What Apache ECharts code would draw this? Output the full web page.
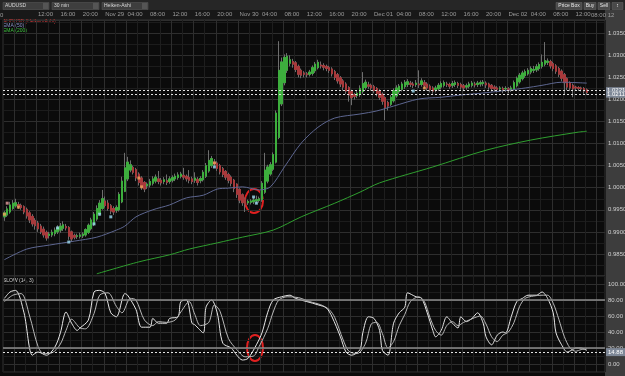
<!DOCTYPE html>
<html lang="en">
<head>
    <meta charset="UTF-8">
    <title>AUDUSD 30 min</title>
    <script src="https://cdn.jsdelivr.net/npm/echarts@6/dist/echarts.min.js"></script>
    <style>
        html, body { margin: 0; padding: 0; background: #0b0b0b; }
    </style>
</head>
<body>

<div id="chart_wrap" style="width: 625px; height: 376px;"></div>

<script>
    // categories: 30 min bars from Nov 28 06:00, some empty slots on the right
    var dayNames = ['Nov 28', 'Nov 29', 'Nov 30', 'Dec 01', 'Dec 02', 'Dec 03'];
    var firstHour = 6;
    var slotCount = 215;

    // heiken-ashi bars: [open, close, low, high]
    var candles = [
        [0.9934,0.9943,0.9925,0.9947],[0.9938,0.9952,0.9934,0.9958],[0.9945,0.9961,0.9941,0.9968],[0.9953,0.9965,0.9950,0.9972],
        [0.9959,0.9966,0.9955,0.9975],[0.9962,0.9958,0.9952,0.9968],[0.9960,0.9955,0.9950,0.9964],[0.9957,0.9945,0.9940,0.9960],
        [0.9951,0.9936,0.9930,0.9955],[0.9943,0.9927,0.9920,0.9947],[0.9935,0.9918,0.9912,0.9940],[0.9926,0.9914,0.9905,0.9931],
        [0.9920,0.9907,0.9900,0.9925],[0.9913,0.9900,0.9895,0.9918],[0.9906,0.9893,0.9887,0.9912],[0.9899,0.9886,0.9880,0.9903],
        [0.9892,0.9895,0.9885,0.9900],[0.9893,0.9899,0.9888,0.9905],[0.9896,0.9904,0.9890,0.9910],[0.9900,0.9909,0.9895,0.9915],
        [0.9904,0.9913,0.9898,0.9920],[0.9908,0.9916,0.9902,0.9924],[0.9912,0.9909,0.9903,0.9918],[0.9910,0.9890,0.9882,0.9913],
        [0.9900,0.9884,0.9877,0.9903],[0.9892,0.9888,0.9883,0.9896],[0.9890,0.9891,0.9884,0.9896],[0.9890,0.9893,0.9885,0.9898],
        [0.9891,0.9895,0.9886,0.9899],[0.9893,0.9905,0.9889,0.9908],[0.9899,0.9915,0.9895,0.9919],[0.9907,0.9927,0.9903,0.9932],
        [0.9917,0.9940,0.9913,0.9945],[0.9929,0.9953,0.9925,0.9960],[0.9941,0.9965,0.9937,0.9972],[0.9953,0.9975,0.9950,0.9995],
        [0.9970,0.9960,0.9955,0.9980],[0.9965,0.9953,0.9948,0.9972],[0.9959,0.9947,0.9940,0.9963],[0.9953,0.9945,0.9938,0.9958],
        [0.9949,0.9955,0.9943,0.9960],[0.9950,0.9985,0.9946,0.9990],[0.9968,1.0015,0.9965,1.0025],[0.9992,1.0045,0.9990,1.0079],
        [1.0020,1.0058,1.0015,1.0070],[1.0040,1.0052,1.0035,1.0062],[1.0046,1.0035,1.0030,1.0050],[1.0041,1.0022,1.0015,1.0045],
        [1.0031,1.0012,1.0005,1.0035],[1.0022,1.0002,0.9995,1.0026],[1.0012,0.9997,0.9990,1.0015],[1.0004,1.0008,0.9997,1.0012],
        [1.0006,1.0014,1.0001,1.0020],[1.0010,1.0020,1.0005,1.0026],[1.0015,1.0024,1.0010,1.0030],[1.0020,1.0014,1.0008,1.0038],
        [1.0017,1.0011,1.0005,1.0022],[1.0014,1.0018,1.0008,1.0024],[1.0016,1.0012,1.0006,1.0030],[1.0014,1.0020,1.0009,1.0026],
        [1.0017,1.0023,1.0012,1.0028],[1.0020,1.0026,1.0015,1.0032],[1.0023,1.0029,1.0018,1.0035],[1.0026,1.0031,1.0021,1.0036],
        [1.0028,1.0024,1.0018,1.0045],[1.0026,1.0020,1.0014,1.0030],[1.0023,1.0017,1.0010,1.0040],[1.0020,1.0014,1.0008,1.0025],
        [1.0017,1.0022,1.0011,1.0035],[1.0019,1.0012,1.0005,1.0024],[1.0016,1.0021,1.0010,1.0026],[1.0018,1.0035,1.0014,1.0040],
        [1.0026,1.0050,1.0022,1.0056],[1.0038,1.0062,1.0034,1.0085],[1.0050,1.0066,1.0045,1.0072],[1.0058,1.0055,1.0048,1.0065],
        [1.0056,1.0044,1.0038,1.0060],[1.0050,1.0036,1.0030,1.0054],[1.0043,1.0030,1.0024,1.0047],[1.0037,1.0024,1.0018,1.0040],
        [1.0030,1.0017,1.0010,1.0034],[1.0024,1.0010,1.0003,1.0028],[1.0017,0.9998,0.9990,1.0020],[1.0008,0.9985,0.9977,1.0010],
        [0.9996,0.9972,0.9965,0.9999],[0.9984,0.9966,0.9959,0.9987],[0.9975,0.9962,0.9945,0.9978],[0.9966,0.9969,0.9961,0.9973],
        [0.9967,0.9970,0.9962,0.9974],[0.9968,0.9972,0.9963,0.9978],[0.9970,0.9973,0.9964,0.9982],[0.9971,0.9975,0.9966,0.9980],
        [0.9973,1.0010,0.9968,1.0015],[0.9990,1.0040,0.9986,1.0079],[1.0015,1.0047,1.0010,1.0052],[1.0031,1.0052,1.0027,1.0058],
        [1.0042,1.0075,1.0038,1.0080],[1.0058,1.0169,1.0055,1.0175],[1.0114,1.0266,1.0110,1.0332],[1.0190,1.0285,1.0185,1.0295],
        [1.0238,1.0295,1.0232,1.0302],[1.0266,1.0298,1.0260,1.0305],[1.0282,1.0290,1.0275,1.0300],[1.0286,1.0280,1.0272,1.0292],
        [1.0283,1.0268,1.0262,1.0287],[1.0275,1.0257,1.0250,1.0279],[1.0266,1.0255,1.0248,1.0270],[1.0260,1.0257,1.0250,1.0264],
        [1.0258,1.0256,1.0250,1.0262],[1.0257,1.0262,1.0252,1.0267],[1.0259,1.0272,1.0254,1.0277],[1.0265,1.0280,1.0260,1.0285],
        [1.0272,1.0284,1.0268,1.0290],[1.0278,1.0276,1.0270,1.0286],[1.0277,1.0273,1.0266,1.0282],[1.0275,1.0270,1.0264,1.0279],
        [1.0272,1.0266,1.0260,1.0276],[1.0269,1.0258,1.0252,1.0273],[1.0263,1.0250,1.0244,1.0267],[1.0256,1.0242,1.0236,1.0260],
        [1.0249,1.0235,1.0228,1.0253],[1.0242,1.0228,1.0220,1.0246],[1.0235,1.0219,1.0212,1.0239],[1.0227,1.0210,1.0195,1.0230],
        [1.0218,1.0204,1.0187,1.0222],[1.0211,1.0207,1.0200,1.0215],[1.0209,1.0214,1.0203,1.0219],[1.0211,1.0225,1.0206,1.0232],
        [1.0218,1.0236,1.0213,1.0262],[1.0227,1.0239,1.0222,1.0245],[1.0233,1.0230,1.0224,1.0240],[1.0232,1.0226,1.0220,1.0236],
        [1.0229,1.0220,1.0214,1.0233],[1.0225,1.0213,1.0207,1.0228],[1.0219,1.0205,1.0199,1.0223],[1.0212,1.0196,1.0188,1.0216],
        [1.0204,1.0182,1.0153,1.0207],[1.0193,1.0185,1.0175,1.0197],[1.0189,1.0205,1.0185,1.0210],[1.0197,1.0220,1.0193,1.0225],
        [1.0208,1.0226,1.0204,1.0232],[1.0217,1.0230,1.0212,1.0235],[1.0223,1.0235,1.0218,1.0240],[1.0229,1.0239,1.0224,1.0244],
        [1.0234,1.0240,1.0228,1.0246],[1.0237,1.0234,1.0228,1.0242],[1.0235,1.0232,1.0226,1.0240],[1.0234,1.0237,1.0228,1.0244],
        [1.0235,1.0233,1.0226,1.0266],[1.0234,1.0242,1.0229,1.0248],[1.0238,1.0232,1.0225,1.0244],[1.0235,1.0226,1.0220,1.0239],
        [1.0230,1.0222,1.0216,1.0234],[1.0226,1.0219,1.0213,1.0230],[1.0222,1.0226,1.0216,1.0231],[1.0224,1.0232,1.0219,1.0237],
        [1.0228,1.0236,1.0223,1.0241],[1.0232,1.0238,1.0227,1.0243],[1.0235,1.0234,1.0228,1.0240],[1.0234,1.0230,1.0224,1.0238],
        [1.0232,1.0236,1.0226,1.0242],[1.0234,1.0238,1.0228,1.0243],[1.0236,1.0232,1.0226,1.0240],[1.0234,1.0228,1.0222,1.0238],
        [1.0231,1.0226,1.0220,1.0235],[1.0228,1.0231,1.0222,1.0236],[1.0230,1.0235,1.0225,1.0240],[1.0232,1.0237,1.0227,1.0242],
        [1.0235,1.0233,1.0227,1.0240],[1.0234,1.0237,1.0228,1.0242],[1.0235,1.0238,1.0229,1.0243],[1.0236,1.0239,1.0230,1.0244],
        [1.0237,1.0233,1.0226,1.0241],[1.0235,1.0228,1.0222,1.0238],[1.0232,1.0225,1.0218,1.0235],[1.0228,1.0224,1.0218,1.0232],
        [1.0226,1.0223,1.0216,1.0230],[1.0224,1.0226,1.0218,1.0230],[1.0225,1.0222,1.0214,1.0229],[1.0224,1.0225,1.0217,1.0230],
        [1.0224,1.0221,1.0214,1.0228],[1.0223,1.0226,1.0217,1.0231],[1.0224,1.0238,1.0220,1.0243],[1.0231,1.0248,1.0227,1.0252],
        [1.0240,1.0255,1.0236,1.0260],[1.0247,1.0260,1.0243,1.0265],[1.0254,1.0263,1.0249,1.0268],[1.0258,1.0266,1.0254,1.0271],
        [1.0262,1.0270,1.0257,1.0275],[1.0266,1.0268,1.0260,1.0276],[1.0267,1.0274,1.0262,1.0280],[1.0270,1.0279,1.0265,1.0284],
        [1.0275,1.0284,1.0270,1.0302],[1.0280,1.0288,1.0275,1.0330],[1.0284,1.0287,1.0278,1.0293],[1.0286,1.0276,1.0270,1.0290],
        [1.0281,1.0270,1.0264,1.0285],[1.0276,1.0264,1.0258,1.0280],[1.0270,1.0257,1.0251,1.0274],[1.0264,1.0248,1.0241,1.0268],
        [1.0256,1.0238,1.0210,1.0260],[1.0247,1.0228,1.0221,1.0250],[1.0238,1.0226,1.0219,1.0241],[1.0232,1.0224,1.0205,1.0236],
        [1.0228,1.0226,1.0220,1.0231],[1.0227,1.0225,1.0219,1.0230],[1.0226,1.0224,1.0218,1.0229],[1.0225,1.0219,1.0213,1.0228],
        [1.0222,1.0216,1.0210,1.0225]
    ];

    // moving averages, read at [bar index, value]
    var ema50 = [
        [0,0.9837],[8,0.9861],[16,0.9870],[25,0.9879],[33,0.9888],[40,0.9904],[43,0.9913],[47,0.9934],
        [53,0.9950],[59,0.9961],[65,0.9977],[71,0.9983],[76,0.9997],[80,0.9999],[85,1.0002],[91,0.9995],
        [95,1.0002],[100,1.0047],[106,1.0101],[112,1.0137],[118,1.0158],[127,1.0167],[133,1.0174],[139,1.0185],
        [148,1.0201],[156,1.0205],[163,1.0210],[170,1.0214],[180,1.0221],[186,1.0226],[192,1.0232],[199,1.0239],[208,1.0237]
    ];
    var ema200 = [
        [33,0.9805],[48,0.9832],[59,0.9848],[66,0.9861],[76,0.9875],[85,0.9888],[96,0.9904],[106,0.9934],
        [118,0.9965],[127,0.9990],[134,1.0011],[153,1.0047],[172,1.0085],[188,1.0108],[205,1.0126],[208,1.0128]
    ];

    // slow stochastic (14, 3)
    var slowK = [
        [0,82],[2,90],[4,92],[7,64],[10,11],[12,15],[15,11],[18,21],[20,39],[22,65],[24,51],[26,42],[27,45],
        [30,55],[32,90],[34,92],[36,88],[38,64],[40,59],[43,88],[44,86],[47,68],[49,46],[52,46],[53,57],[55,51],
        [58,51],[59,57],[62,59],[63,78],[65,80],[67,51],[68,49],[71,39],[72,71],[74,80],[76,64],[78,26],[81,20],
        [83,11],[85,5],[87,7],[90,24],[92,39],[94,64],[96,80],[99,84],[102,86],[104,82],[108,78],[112,74],[115,70],
        [117,59],[120,34],[122,15],[124,11],[127,18],[128,39],[130,59],[132,57],[134,42],[135,17],[137,11],[139,51],
        [141,64],[143,71],[144,89],[147,84],[149,82],[151,64],[153,42],[154,34],[156,42],[158,59],[160,51],[162,45],
        [163,59],[165,53],[167,57],[169,64],[171,51],[172,34],[174,24],[176,36],[178,40],[179,39],[181,59],[183,78],
        [185,82],[187,86],[190,86],[192,90],[194,82],[196,64],[197,39],[199,24],[201,15],[203,18],[204,20],[206,20],[208,17]
    ];
    var slowD = [
        [0,78],[3,86],[6,88],[9,60],[12,22],[14,13],[17,14],[20,25],[22,42],[24,56],[27,45],[29,44],[32,63],
        [34,86],[37,89],[40,72],[42,64],[45,82],[47,80],[50,55],[53,48],[55,53],[58,52],[61,55],[63,65],[66,78],
        [68,62],[70,48],[73,52],[75,74],[77,66],[80,32],[83,18],[86,9],[89,10],[91,22],[94,44],[96,65],[98,80],
        [101,84],[105,83],[109,78],[113,74],[116,68],[118,58],[121,30],[123,16],[126,13],[129,26],[131,50],[133,52],
        [135,38],[137,20],[139,28],[141,48],[143,62],[145,78],[148,84],[150,78],[152,58],[154,42],[156,36],[158,48],
        [160,53],[162,48],[164,52],[166,55],[168,58],[170,60],[172,50],[174,34],[176,28],[178,36],[180,40],[182,52],
        [184,72],[186,82],[189,85],[192,86],[194,86],[196,76],[198,56],[200,34],[202,20],[204,16],[206,18],[208,19]
    ];

    // signal markers on the price chart: [bar index, price, kind]
    var signals = [
        [0,0.9940,'sell'],[1,0.9965,'alert'],[5,0.9956,'sell'],[19,0.9909,'buy'],[23,0.9877,'buy'],
        [32,0.9918,'buy'],[34,0.9940,'buy'],[38,0.9934,'buy'],[48,1.0022,'sell'],[49,1.0002,'sell'],
        [75,1.0056,'sell'],[75,1.0047,'buy'],[89,0.9979,'buy'],[90,0.9965,'buy'],[146,1.0219,'buy'],[150,1.0226,'sell']
    ];

    var lastPrices = [1.0221, 1.0211];
    var stochBands = [80, 20];
    var stochLast = 14.88;

    var font = 'Liberation Sans, Arial, sans-serif';
    var lastBar = candles.length - 1;

    function pad(n) { return n < 10 ? '0' + n : '' + n; }

    var times = [];
    for (var k = 0; k < slotCount; k++) {
        var m = firstHour * 60 + k * 30;
        var d = Math.floor(m / 1440);
        var hm = m % 1440;
        times.push(dayNames[d] + ' ' + pad(Math.floor(hm / 60)) + ':' + pad(hm % 60));
    }

    function isTick(index, value) {
        var hh = parseInt(value.slice(-5, -3), 10);
        return index > 6 && index <= lastBar && value.slice(-2) === '00' && hh % 4 === 0;
    }

    var bodies = candles.map(function (c) {
        return [c[0], c[1], Math.min(c[0], c[1]), Math.max(c[0], c[1])];
    });

    var signalColors = { buy: '#9fdcf2', sell: '#f2a35e', alert: '#e8a0a0' };
    var signalData = signals.map(function (s) {
        return { value: [s[0], s[1]], itemStyle: { color: signalColors[s[2]] } };
    });

    var vLines = {
        show: true,
        interval: function (index) { return index % 4 === 0; },
        lineStyle: { color: ['#1e1e1e', '#2e2e2e'], width: 1 }
    };

    function dropBox(x, w, label) {
        return [
            { type: 'rect', shape: { x: x, y: 2.5, width: w, height: 7 }, style: { fill: '#3e3e3e', stroke: '#5a5a5a', lineWidth: 0.5 } },
            { type: 'rect', shape: { x: x + w - 6, y: 3, width: 5.5, height: 6 }, style: { fill: '#555' } },
            { type: 'text', x: x + 2, y: 6, style: { text: label, fill: '#d8d8d8', font: '5px ' + font, textVerticalAlign: 'middle' } }
        ];
    }

    function button(x, w, label) {
        return [
            { type: 'rect', shape: { x: x, y: 2.5, width: w, height: 7 }, style: { fill: '#4a4a4a', stroke: '#666', lineWidth: 0.5 } },
            { type: 'text', x: x + w / 2, y: 6, style: { text: label, fill: '#e6e6e6', font: '5px ' + font, textAlign: 'center', textVerticalAlign: 'middle' } }
        ];
    }

    var graphics = [
        { type: 'rect', z: -10, shape: { x: 0, y: 0, width: 625, height: 10 }, style: { fill: '#262626' } },
        { type: 'rect', z: -10, shape: { x: 0, y: 10, width: 625, height: 10 }, style: { fill: '#181818' } },
        { type: 'rect', z: -9, shape: { x: 605, y: 10, width: 20, height: 366 }, style: { fill: '#3d3d3d' } },
        { type: 'text', x: 3, y: 19, style: { text: 'AUDUSD (Heiken-Ashi)', fill: '#d23a3a', font: '5px ' + font } },
        { type: 'text', x: 3, y: 23.5, style: { text: 'EMA (50)', fill: '#8c93c8', font: '5px ' + font } },
        { type: 'text', x: 3, y: 28, style: { text: 'EMA (200)', fill: '#3fc23f', font: '5px ' + font } },
        { type: 'text', x: 3, y: 278, style: { text: 'SLOW (14, 3)', fill: '#d0d0d0', font: '5px ' + font } },
        { type: 'text', x: 0, y: 12, style: { text: '0', fill: '#9c9c9c', font: '6px ' + font } },
        { type: 'text', x: 591, y: 12, style: { text: '08:00 12', fill: '#9c9c9c', font: '6px ' + font } },
        { type: 'ellipse', shape: { cx: 254, cy: 201, rx: 9, ry: 12 }, style: { fill: 'none', stroke: '#e02020', lineWidth: 2 } },
        { type: 'ellipse', shape: { cx: 255, cy: 348, rx: 8, ry: 13 }, style: { fill: 'none', stroke: '#e02020', lineWidth: 2 } }
    ];
    graphics = graphics
        .concat(dropBox(3, 46, 'AUDUSD'))
        .concat(dropBox(52, 47, '30 min'))
        .concat(dropBox(102, 46, 'Heiken-Ashi'))
        .concat(button(556, 26, 'Price Box'))
        .concat(button(584, 12, 'Buy'))
        .concat(button(598, 12, 'Sell'))
        .concat(button(612, 11, '\u2195'));

    var myChart = echarts.init(document.getElementById('chart_wrap'));

    var option = {
        backgroundColor: '#0b0b0b',
        animation: false,
        textStyle: { fontFamily: font },
        grid: [
            { left: 3, right: 20, top: 20, height: 256, show: true, borderColor: '#333', borderWidth: 1, containLabel: false, outerBoundsMode: 'none' },
            { left: 3, right: 20, top: 276, height: 96, show: true, borderColor: '#333', borderWidth: 1, containLabel: false, outerBoundsMode: 'none' }
        ],
        xAxis: [
            {
                gridIndex: 0, type: 'category', data: times, position: 'top', boundaryGap: true,
                axisLine: { show: false }, axisTick: { show: false },
                axisLabel: {
                    fontSize: 6, color: '#9c9c9c', margin: 3, align: 'left', hideOverlap: false,
                    interval: function (index, value) { return isTick(index, value); },
                    formatter: function (value) {
                        return value.slice(-5) === '00:00' ? value.slice(0, 6) : value.slice(-5);
                    }
                },
                splitLine: vLines
            },
            {
                gridIndex: 1, type: 'category', data: times, boundaryGap: true,
                axisLine: { show: false }, axisTick: { show: false }, axisLabel: { show: false },
                splitLine: vLines
            }
        ],
        yAxis: [
            {
                gridIndex: 0, type: 'value', position: 'right', min: 0.98, max: 1.038, interval: 0.0025,
                axisLine: { show: false }, axisTick: { show: false },
                axisLabel: {
                    fontSize: 6, color: '#d0d0d0', margin: 3,
                    formatter: function (v) {
                        var r = Math.round(v * 10000);
                        return (r % 50 === 0 && v > 0.984 && v < 1.036) ? v.toFixed(4) : '';
                    }
                },
                splitLine: { lineStyle: { color: ['#2e2e2e', '#1c1c1c'], width: 1 } }
            },
            {
                gridIndex: 1, type: 'value', position: 'right', min: -10, max: 110, interval: 10,
                axisLine: { show: false }, axisTick: { show: false },
                axisLabel: {
                    fontSize: 6, color: '#d0d0d0', margin: 3,
                    formatter: function (v) {
                        return (v >= 0 && v <= 100 && v % 20 === 0) ? v.toFixed(2) : '';
                    }
                },
                splitLine: { lineStyle: { color: ['#1c1c1c', '#2e2e2e'], width: 1 } }
            }
        ],
        series: [
            {
                name: 'wicks', type: 'candlestick', xAxisIndex: 0, yAxisIndex: 0,
                data: candles, barWidth: 2,
                itemStyle: { color: '#6e6e6e', color0: '#6e6e6e', borderColor: '#6e6e6e', borderColor0: '#6e6e6e', borderWidth: 1 }
            },
            {
                name: 'AUDUSD', type: 'candlestick', xAxisIndex: 0, yAxisIndex: 0,
                data: bodies, barWidth: 2, z: 3,
                itemStyle: { color: '#3dae3d', color0: '#a8393b', borderColor: '#3dae3d', borderColor0: '#a8393b', borderWidth: 1 }
            },
            {
                name: 'EMA (50)', type: 'line', xAxisIndex: 0, yAxisIndex: 0,
                data: ema50, showSymbol: false, smooth: 0.3, z: 4,
                lineStyle: { color: '#5d6690', width: 1 },
                markLine: {
                    silent: true, symbol: 'none', precision: 4,
                    lineStyle: { color: '#e0e0e0', type: [2, 2], width: 1 },
                    label: {
                        show: true, position: 'end', distance: 1, fontSize: 6, color: '#ffffff',
                        backgroundColor: '#7d8796', padding: [0, 1],
                        formatter: function (p) { return p.value.toFixed(4); }
                    },
                    data: lastPrices.map(function (p) { return { yAxis: p }; })
                }
            },
            {
                name: 'EMA (200)', type: 'line', xAxisIndex: 0, yAxisIndex: 0,
                data: ema200, showSymbol: false, smooth: 0.3, z: 4,
                lineStyle: { color: '#2f9f2f', width: 1 }
            },
            {
                name: 'signals', type: 'scatter', xAxisIndex: 0, yAxisIndex: 0,
                data: signalData, symbol: 'rect', symbolSize: 3, z: 5
            },
            {
                name: '%K', type: 'line', xAxisIndex: 1, yAxisIndex: 1,
                data: slowK, showSymbol: false, smooth: 0.3,
                lineStyle: { color: '#e8e8e8', width: 1 },
                markLine: {
                    silent: true, symbol: 'none', precision: 2,
                    data: stochBands.map(function (b) {
                        return { yAxis: b, lineStyle: { color: '#8c8c8c', width: 1.5, type: 'solid' }, label: { show: false } };
                    }).concat([{
                        yAxis: stochLast,
                        lineStyle: { color: '#e0e0e0', width: 1, type: [2, 2] },
                        label: {
                            show: true, position: 'end', distance: 1, fontSize: 6, color: '#ffffff',
                            backgroundColor: '#7d8796', padding: [1, 2],
                            formatter: function (p) { return p.value.toFixed(2); }
                        }
                    }])
                }
            },
            {
                name: '%D', type: 'line', xAxisIndex: 1, yAxisIndex: 1,
                data: slowD, showSymbol: false, smooth: 0.3,
                lineStyle: { color: '#b8b8b8', width: 1 }
            }
        ],
        graphic: { elements: graphics }
    };

    myChart.setOption(option);
</script>
</body>
</html>
